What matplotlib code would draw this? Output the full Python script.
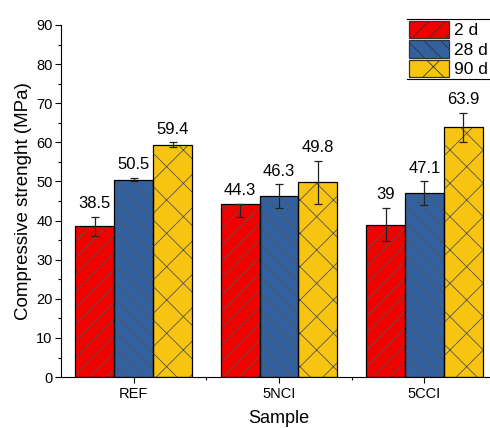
import numpy as np
import matplotlib
matplotlib.use('Agg')
import matplotlib.pyplot as plt
from matplotlib.patches import Patch
from matplotlib.lines import Line2D

plt.rcParams['font.family'] = ['Liberation Sans', 'DejaVu Sans']
plt.rcParams['hatch.linewidth'] = 0.6

# 抗压强度数据
samples = ['REF', '5NCI', '5CCI']
ages = ['2 d', '28 d', '90 d']
val_2d = [38.5, 44.3, 39]
val_28d = [50.5, 46.3, 47.1]
val_90d = [59.4, 49.8, 63.9]
# 误差 (下, 上)
err_2d = [[2.5, 3.5, 4.3], [2.5, 0.0, 4.3]]
err_28d = [[0.4, 3.0, 3.0], [0.4, 3.0, 3.0]]
err_90d = [[0.6, 5.5, 3.7], [0.6, 5.5, 3.7]]

colors = ['#f20000', '#33619f', '#f8c412']
hatches = ['//', '\\\\', 'x']

fig = plt.figure(figsize=(4.9, 4.28), dpi=100)
ax = fig.add_axes([0.1245, 0.119, 0.890, 0.8226])

x = np.arange(len(samples))
w = 0.267
series = [val_2d, val_28d, val_90d]
errs = [err_2d, err_28d, err_90d]
for i, (vals, er) in enumerate(zip(series, errs)):
    pos = x + (i - 1) * w
    # 填充+阴影线, 再叠一层黑色边框
    ax.bar(pos, vals, w, color=colors[i], edgecolor='#555555', hatch=hatches[i], linewidth=0, zorder=2)
    ax.bar(pos, vals, w, fill=False, edgecolor='black', linewidth=0.9, zorder=3)
    ax.errorbar(pos, vals, yerr=er, fmt='none', ecolor='#222222', elinewidth=0.9,
                capsize=3, capthick=0.9, zorder=4)
    for p, v, e in zip(pos, vals, er[1]):
        ax.text(p, v + e + 1.4, f'{v:g}', ha='center', va='bottom', fontsize=12, zorder=5)

ax.set_xlim(-0.5, 2.5)
ax.set_ylim(0, 90)
ax.set_xticks(x)
ax.set_xticklabels(samples, fontsize=10.5)
ax.set_xticks([0.5, 1.5], minor=True)
ax.set_yticks(np.arange(0, 91, 10))
ax.set_yticks(np.arange(5, 90, 10), minor=True)
ax.tick_params(axis='y', labelsize=10.5, pad=2)
ax.tick_params(which='major', direction='out', length=4, width=0.8)
ax.tick_params(which='minor', direction='out', length=2.5, width=0.8)
ax.spines['top'].set_visible(False)
ax.spines['right'].set_visible(False)
ax.set_xlabel('Sample', fontsize=13, labelpad=6)
ax.set_ylabel('Compressive strenght (MPa)', fontsize=13.5, labelpad=3)

handles = [Patch(facecolor=colors[i], edgecolor='#333333', hatch=hatches[i], linewidth=0.9)
           for i in range(3)]
leg = ax.legend(handles, ages, loc='upper left', bbox_to_anchor=(407 / 490, 1 - 19 / 428),
                bbox_transform=fig.transFigure, frameon=False, fontsize=12.5,
                handlelength=2.3, handleheight=1.15, labelspacing=0.12,
                handletextpad=0.3, borderaxespad=0, borderpad=0.1)

# 图例上下两条横线
fig.canvas.draw()
bb = leg.get_window_extent().transformed(fig.transFigure.inverted())
for yy in (bb.y0, bb.y1):
    fig.add_artist(Line2D([bb.x0, 1.0], [yy, yy], color='black', linewidth=0.8))

fig.savefig('out.png', dpi=100)
